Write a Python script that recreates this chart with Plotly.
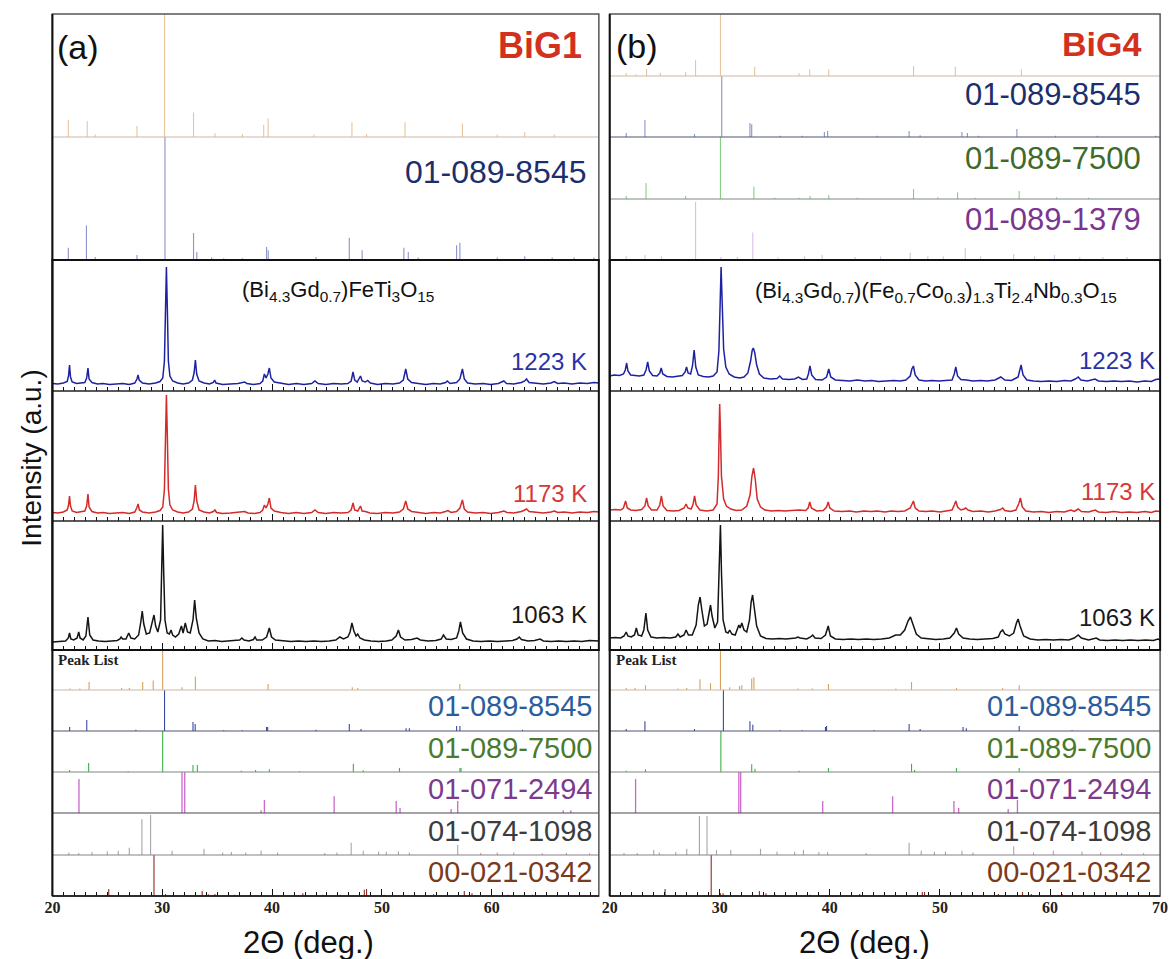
import plotly.graph_objects as go

W, H = 1176, 959

# ---------------- measured diffraction patterns: (2theta, intensity a.u.) ----------------
a1223 = [(20.0,7.5),(20.5,7),(21.0,8),(21.35,9.5),(21.47,15),(21.56,26),(21.65,14),(21.8,9),(22.2,7.5),(22.6,8),(22.95,8.5),(23.12,13),(23.24,23),(23.34,12),(23.6,8.5),(24.1,7),(24.6,7.5),(25.2,6.5),(25.8,7),(26.4,7.5),(27.0,6.5),(27.5,8),(27.7,12),(27.8,16),(27.9,11),(28.2,8),(28.8,7),(29.4,8),(29.8,9.5),(30.05,13),(30.2,30),(30.3,90),(30.38,124),(30.46,85),(30.56,30),(30.7,15),(30.95,10),(31.4,8),(31.9,7),(32.4,8),(32.75,11),(32.9,18),(33.02,31),(33.14,17),(33.35,10),(33.8,8),(34.3,7),(34.65,8.5),(34.77,11),(34.9,8),(35.5,6.5),(36.2,7),(36.9,7.5),(37.5,9),(37.7,7.5),(38.3,6.5),(38.9,7.5),(39.15,10),(39.3,17),(39.45,13),(39.62,17),(39.75,23),(39.9,13),(40.2,9),(40.8,7.5),(41.5,6.5),(42.2,7.5),(42.9,6.5),(43.6,7.5),(43.9,10),(44.2,7.5),(44.9,6.5),(45.6,7.5),(46.3,7),(46.9,7.5),(47.2,10),(47.37,19),(47.52,11),(47.75,9),(48.05,15),(48.2,10),(48.5,9),(48.7,10.5),(48.95,8),(49.6,6.5),(50.3,7.5),(51.0,7),(51.6,8),(51.95,11),(52.17,22),(52.35,12),(52.7,8.5),(53.3,7.5),(54.0,6.5),(54.7,7.5),(55.3,7),(55.8,8.5),(55.95,10),(56.2,7.5),(56.8,8.5),(57.1,12),(57.33,22),(57.5,12),(57.8,8),(58.5,7),(59.2,7.5),(59.9,6.5),(60.6,7.5),(61.1,10),(61.35,7.5),(62.0,7),(62.7,8.5),(63.0,10),(63.16,12),(63.4,8.5),(64.0,7.5),(64.7,7),(65.4,8),(65.7,9.5),(66.0,7.5),(66.6,8),(67.3,7),(68.0,8),(68.7,7.5),(69.3,8.5),(69.8,8)]

a1173 = [(20.0,8.5),(20.5,8),(21.0,9),(21.35,11),(21.47,16),(21.56,25),(21.65,15),(21.8,10),(22.2,8.5),(22.6,9),(22.95,10),(23.12,15),(23.24,27),(23.34,14),(23.6,9.5),(24.1,8),(24.6,8.5),(25.2,7.5),(25.8,8),(26.4,8.5),(27.0,7.5),(27.5,9),(27.68,13),(27.8,17),(27.92,11),(28.2,9),(28.8,8),(29.4,9),(29.8,10.5),(30.05,14),(30.2,32),(30.3,95),(30.38,126),(30.46,88),(30.56,32),(30.7,16),(30.95,11),(31.4,9),(31.9,8),(32.4,9),(32.75,12),(32.9,20),(33.02,36),(33.14,20),(33.35,11),(33.8,9),(34.3,8),(34.65,9.5),(34.8,11),(34.95,8.5),(35.5,7.5),(36.2,8),(36.9,8.5),(37.5,9.5),(37.8,8),(38.4,7.5),(38.9,8.5),(39.15,11),(39.3,16),(39.45,13),(39.62,17),(39.75,23),(39.9,13),(40.2,10),(40.8,8.5),(41.5,7.5),(42.2,8.5),(42.9,7.5),(43.6,8.5),(43.9,11),(44.2,8.5),(44.9,7.5),(45.6,8.5),(46.3,8),(46.9,8.5),(47.2,11),(47.37,18),(47.52,11),(47.8,10),(48.05,15),(48.2,10),(48.5,9.5),(48.9,8),(49.6,7.5),(50.3,8.5),(51.0,8),(51.6,9),(51.95,12),(52.17,20),(52.35,12),(52.7,9.5),(53.3,8.5),(54.0,7.5),(54.7,8.5),(55.3,8),(55.8,9.5),(56.0,10.5),(56.3,8.5),(56.8,9.5),(57.1,13),(57.33,21),(57.5,12),(57.8,9),(58.5,8),(59.2,8.5),(59.9,7.5),(60.6,8.5),(61.1,10),(61.4,8.5),(62.0,8),(62.7,9.5),(63.0,11),(63.16,12),(63.4,9.5),(64.0,8.5),(64.7,8),(65.4,9),(65.7,10),(66.0,8.5),(66.6,9),(67.3,8),(68.0,9),(68.7,8.5),(69.3,9.5),(69.8,9)]

a1063 = [(20.0,8),(20.6,8.5),(21.2,9),(21.45,12),(21.56,17),(21.68,11),(21.95,10),(22.25,12),(22.4,18),(22.52,12),(22.8,10),(23.05,14),(23.24,33),(23.4,15),(23.7,10),(24.2,9),(24.8,8.5),(25.4,9),(25.9,9.5),(26.15,11),(26.26,13),(26.4,11),(26.7,11),(26.95,17),(27.15,12),(27.5,11),(27.85,15),(28.05,28),(28.18,39),(28.32,26),(28.55,16),(28.85,17),(29.1,28),(29.25,35),(29.4,24),(29.6,18),(29.85,30),(29.95,80),(30.04,125),(30.14,75),(30.25,30),(30.45,17),(30.65,16),(30.8,20),(30.95,15),(31.2,13),(31.5,16),(31.75,24),(31.9,17),(32.1,27),(32.3,18),(32.55,17),(32.8,30),(32.95,50),(33.1,32),(33.35,17),(33.7,11),(34.2,9),(34.8,9.5),(35.4,8.5),(36.0,9),(36.6,9.5),(37.05,10),(37.25,12),(37.45,10),(37.9,9),(38.3,10.5),(38.45,13),(38.6,10),(39.1,10),(39.5,13),(39.75,22),(39.95,13),(40.3,10),(41.0,9),(41.7,8.5),(42.4,9),(43.1,8.5),(43.8,9),(44.5,8.5),(45.2,9),(45.8,10),(46.17,13),(46.5,11),(46.9,13),(47.1,18),(47.27,27),(47.45,19),(47.65,14),(47.8,16),(48.0,12),(48.4,10),(49.0,9),(49.7,8.5),(50.4,9),(50.9,10),(51.3,14),(51.5,20),(51.7,13),(52.1,10),(52.7,10.5),(53.2,12),(53.5,10),(54.2,9),(54.9,9.5),(55.4,11),(55.6,15),(55.85,11),(56.3,10.5),(56.8,12),(57.0,19),(57.15,28),(57.35,17),(57.7,11),(58.3,9),(59.0,8.5),(59.8,9),(60.5,8.5),(61.3,9),(61.9,9.5),(62.3,11),(62.5,13),(62.7,10.5),(63.3,9),(63.9,9.5),(64.4,11),(64.7,9),(65.4,8.5),(66.1,9),(66.8,8.5),(67.5,9),(68.2,8.5),(68.9,9.5),(69.8,9)]

b1223 = [(20.0,15),(20.4,16),(20.9,15.5),(21.25,17),(21.42,21),(21.54,28),(21.66,20),(21.9,16),(22.3,15.5),(22.7,15),(23.1,16),(23.3,21),(23.45,29),(23.6,20),(23.9,15.5),(24.3,15),(24.55,18),(24.68,23),(24.82,17),(25.2,14.5),(25.7,14),(26.2,15),(26.6,15.5),(26.85,19),(26.98,24),(27.12,18),(27.35,17),(27.52,25),(27.67,41),(27.82,24),(28.05,16),(28.5,14.5),(29.0,14),(29.4,15),(29.75,19),(29.92,40),(30.02,90),(30.12,124),(30.22,88),(30.35,42),(30.55,24),(30.85,17),(31.3,14),(31.8,13),(32.2,14),(32.55,18),(32.8,30),(32.95,41),(33.05,43),(33.18,38),(33.35,26),(33.6,17),(34.0,13),(34.6,12),(35.2,12.5),(35.44,15),(35.7,12),(36.3,11.5),(36.8,12),(37.15,14),(37.5,11.5),(37.9,12),(38.05,17),(38.19,25),(38.35,16),(38.7,11.5),(39.3,11),(39.7,14),(39.9,22),(40.08,14),(40.5,11),(41.2,10.5),(41.8,10),(42.5,11),(43.2,10),(43.8,10.5),(44.4,9.5),(45.1,10),(45.8,10.5),(46.4,10),(46.9,11),(47.3,15),(47.45,22),(47.59,25),(47.75,16),(48.1,11),(48.7,10),(49.3,10.5),(49.9,10),(50.5,10.5),(51.1,11),(51.3,17),(51.44,24),(51.6,15),(51.9,11.5),(52.4,11),(53.0,10),(53.7,10.5),(54.3,10),(55.0,11),(55.53,14),(55.9,11),(56.5,10.5),(57.1,14),(57.22,20),(57.37,26),(57.55,16),(57.9,11),(58.5,10),(59.2,9.5),(59.9,10),(60.6,9.5),(61.3,10.5),(61.9,10),(62.3,12),(62.56,14),(62.8,11),(63.4,10),(64.08,12),(64.4,10),(65.1,9.5),(65.8,10),(66.5,9.5),(67.2,10),(67.9,9),(68.6,10),(69.2,9.5),(69.6,11.5),(69.9,12),(70.0,11)]

b1173 = [(20.0,11),(20.5,11.5),(21.0,11),(21.25,13),(21.44,20),(21.6,13),(21.9,11),(22.4,10.5),(22.9,11.5),(23.2,15),(23.35,23),(23.5,15),(23.8,11),(24.3,11),(24.55,16),(24.7,25),(24.85,15),(25.2,10.5),(25.8,10),(26.3,10.5),(26.75,13),(26.94,17),(27.1,13),(27.4,12),(27.58,17),(27.71,25),(27.85,16),(28.2,11),(28.8,10),(29.4,11),(29.75,17),(29.87,45),(29.95,95),(29.99,117),(30.05,95),(30.15,45),(30.35,22),(30.6,15),(31.0,12),(31.5,10.5),(32.0,11),(32.45,15),(32.75,26),(32.92,45),(33.07,53),(33.22,42),(33.4,22),(33.7,14),(34.1,11),(34.7,10),(35.3,10.5),(35.9,10),(36.5,10.5),(37.2,11),(37.8,10.5),(38.03,13),(38.17,19),(38.32,13),(38.8,10),(39.4,10.5),(39.7,14),(39.85,19),(40.0,13),(40.4,10),(41.1,9.5),(41.8,10),(42.4,9),(43.1,10),(43.7,9.5),(44.3,10),(45.0,9),(45.6,10),(46.2,9.5),(46.8,10),(47.3,13),(47.45,17),(47.59,20),(47.75,13),(48.1,10),(48.7,9.5),(49.3,10),(50.0,9),(50.6,10),(51.1,11),(51.3,16),(51.44,20),(51.6,14),(51.9,11),(52.2,12),(52.35,13),(52.55,11),(53.0,9.5),(53.7,10),(54.4,9),(55.0,10),(55.5,11.5),(55.7,13),(55.9,10.5),(56.4,9.5),(56.9,11),(57.15,17),(57.31,23),(57.48,14),(57.8,10),(58.5,9),(59.2,9.5),(59.9,8.5),(60.6,9.5),(61.3,9),(61.9,11),(62.2,9.5),(62.56,12),(62.85,9.5),(63.5,9),(64.1,11),(64.4,9),(65.1,8.5),(65.8,9.5),(66.5,8.5),(67.2,9),(67.9,8.5),(68.6,9.5),(69.2,8.5),(69.6,10),(70.0,9.5)]

b1063 = [(20.0,12),(20.5,12.5),(21.0,12),(21.3,14),(21.5,18),(21.65,14),(21.95,13),(22.25,15),(22.42,22),(22.58,15),(22.9,14),(23.1,20),(23.29,37),(23.45,20),(23.75,13),(24.3,12),(24.9,12.5),(25.5,12),(26.0,13),(26.2,16),(26.4,13),(26.75,15),(26.94,20),(27.15,15),(27.5,15),(27.85,25),(28.05,45),(28.21,53),(28.37,40),(28.6,24),(28.85,26),(29.02,38),(29.16,45),(29.3,34),(29.55,22),(29.8,28),(29.95,80),(30.06,125),(30.16,75),(30.3,30),(30.55,18),(30.75,17),(30.9,20),(31.1,16),(31.4,15),(31.6,20),(31.73,25),(31.85,22),(32.0,27),(32.2,20),(32.45,18),(32.7,30),(32.85,48),(32.98,55),(33.12,45),(33.35,24),(33.7,14),(34.2,11.5),(34.8,11),(35.4,11.5),(36.0,11),(36.6,11.5),(36.9,12),(37.1,13),(37.3,12),(37.9,11),(38.25,13),(38.44,15),(38.65,12),(39.2,11.5),(39.6,15),(39.85,24),(40.05,14),(40.5,11),(41.2,10.5),(41.9,11),(42.6,10.5),(43.3,11),(44.0,10.5),(44.7,11),(45.4,12),(45.98,15),(46.4,15),(46.8,20),(47.1,29),(47.32,33),(47.55,25),(47.85,16),(48.3,12),(48.9,11),(49.6,10.5),(50.3,11),(50.9,12),(51.3,17),(51.5,22),(51.7,16),(52.1,12),(52.7,11),(53.4,10.5),(54.1,11),(54.8,11.5),(55.3,13),(55.5,18),(55.7,20),(55.9,16),(56.3,14),(56.7,17),(56.95,27),(57.1,31),(57.28,24),(57.6,14),(58.2,11),(58.9,10),(59.6,10.5),(60.3,10),(61.0,10.5),(61.7,10),(62.2,12),(62.56,15),(62.85,12),(63.5,10),(64.2,12),(64.5,10),(65.2,9.5),(65.9,10),(66.6,9.5),(67.3,10),(68.0,9.5),(68.7,10),(69.4,9.5),(69.8,11),(70.0,10)]

# ---------------- reference stick patterns: (2theta, relative intensity %) ----------------
a_top_peaklist = [(21.45,14),(23.17,13),(23.9,2),(27.7,9),(30.21,100),(32.85,20),(34.8,3),(37.3,2.5),(39.24,10),(39.64,15),(43.8,2),(47.27,12),(48.6,2.5),(52.1,12),(57.33,11),(60.5,2),(63.0,4),(65.7,2)]
a_top_8545 = [(21.45,10),(23.1,28),(23.9,2.5),(27.7,4),(30.25,100),(32.85,22),(33.15,6.5),(34.5,2),(35.6,1.5),(37.3,1.5),(39.5,10.5),(39.65,8),(44.0,2.5),(47.03,18),(48.2,8),(52.0,10),(52.4,6.5),(53.3,2),(56.8,12),(57.1,14),(60.5,2),(63.0,3),(65.5,2),(67.5,2),(69.3,2)]

b_top_peaklist = [(21.5,5),(22.4,3),(23.35,11),(24.6,5),(26.9,6.5),(27.8,26),(30.06,100),(33.17,15),(37.2,5),(38.17,11),(39.9,11),(47.6,16),(51.4,15),(57.4,11)]
b_top_8545 = [(21.5,6.5),(23.2,28),(27.7,5),(30.18,100),(32.74,23),(32.9,21),(35.5,2),(37.5,2),(39.5,8),(39.8,10),(44.3,2),(47.2,10),(48.2,3),(52.0,8),(52.5,6.5),(53.5,2),(56.99,13),(60.5,2),(64.3,2),(69.6,2)]
b_top_7500 = [(21.5,5),(23.3,26),(26.9,5),(30.06,100),(33.1,20),(35.0,2),(37.2,2),(38.2,5),(39.9,6.5),(42.5,2),(47.6,16),(49.8,3),(51.6,11),(53.2,2),(57.2,13),(60.6,3),(63.5,2)]
b_top_1379 = [(21.5,6),(23.2,8),(24.7,6),(27.8,95),(30.1,5),(31.6,5),(33.0,45),(35.3,4),(37.7,6),(39.3,8),(42.3,5),(44.6,6),(47.3,12),(48.9,6),(50.3,6),(52.3,20),(53.7,6),(56.7,10),(58.6,6),(60.4,8),(62.7,5),(64.8,5),(67.0,5)]

a_peaklist = [(21.6,4),(22.5,4),(23.34,20),(26.3,5),(27.0,5),(28.22,20),(29.18,24),(30.04,100),(31.8,7),(33.02,34),(39.64,15),(47.3,7),(47.8,5),(57.09,15)]
a_8545 = [(21.57,10),(23.13,27),(27.6,3),(30.21,100),(32.8,22),(33.0,17),(35.6,2),(37.3,2),(39.5,10),(39.6,10),(44.0,3),(47.03,17),(48.1,5),(52.2,7),(52.5,7),(56.8,12),(57.1,12),(62.8,3)]
a_7500 = [(21.57,5),(23.3,22),(26.9,2),(30.04,100),(32.8,17),(33.2,17),(37.2,3),(38.5,5),(39.75,7),(42.5,2),(47.4,20),(48.3,4),(51.6,10),(57.1,10),(57.2,10)]
a_2494 = [(22.42,83),(31.8,100),(32.05,100),(39.0,7),(39.3,32),(45.65,41),(51.3,29),(51.65,12),(56.3,10),(56.9,29),(66.5,7),(67.2,7)]
a_1098 = [(21.5,6),(22.4,5),(23.6,7),(25.0,9),(26.0,10),(27.0,17),(28.15,85),(28.94,95),(30.9,10),(33.8,15),(35.5,6),(36.3,7),(37.6,6),(39.0,10),(40.5,6),(44.8,5),(45.9,6),(47.2,29),(48.3,10),(49.7,8),(50.4,8),(51.5,9),(52.5,6),(56.9,24),(59.0,5),(60.5,6),(62.0,6),(64.6,4),(66.8,5),(68.9,4)]
a_0342 = [(25.13,17),(29.25,100),(30.3,5),(33.64,12),(34.2,4),(34.8,5),(36.6,3),(38.0,3),(42.8,7),(44.6,3),(46.2,3),(48.4,15),(48.6,17),(50.2,3),(53.0,3),(54.7,4),(57.5,12),(58.2,7),(61.5,3),(63.7,3)]

b_peaklist = [(21.5,5),(22.3,5),(23.25,12),(26.2,4),(27.0,5),(28.2,27),(29.16,17),(30.06,100),(30.9,7),(31.8,10),(32.0,12),(32.9,29),(33.1,32),(37.1,4),(38.4,4),(39.87,15),(46.0,4),(47.42,20),(51.5,5),(55.7,5),(57.2,12)]
b_8545 = [(21.5,5),(23.2,24),(27.7,5),(30.33,100),(32.74,24),(33.0,15),(35.5,2),(37.5,2),(39.6,10),(39.7,12),(44.0,2),(47.2,17),(48.2,5),(52.1,10),(52.4,7),(57.2,12),(62.0,2)]
b_7500 = [(21.5,3),(23.25,7),(30.1,100),(32.9,19),(33.2,8),(37.2,3),(39.87,10),(47.42,20),(47.7,5),(51.5,10),(57.2,10)]
b_2494 = [(22.35,83),(31.73,100),(31.9,100),(39.35,29),(45.7,41),(51.27,29),(51.7,12),(56.2,10),(57.04,32)]
b_1098 = [(21.3,5),(22.5,5),(24.0,12),(24.5,6),(26.0,7),(27.0,15),(28.15,93),(28.84,93),(29.7,12),(31.0,12),(33.7,15),(35.2,8),(36.8,8),(37.6,12),(39.0,7),(39.8,7),(43.3,5),(47.2,29),(48.3,10),(49.5,8),(50.5,8),(52.0,10),(53.0,6),(56.7,20),(58.5,6),(60.3,10),(62.9,8),(64.6,6),(66.5,5),(68.5,5)]
b_0342 = [(25.03,17),(29.22,100),(30.06,7),(30.3,7),(33.6,12),(34.2,7),(35.0,4),(38.2,3),(42.7,5),(48.4,10),(48.6,10),(55.3,5),(57.5,10),(58.3,5),(61.1,5)]

temperatures = ["1223 K", "1173 K", "1063 K"]

# ---------------- styling ----------------
SANS = "Liberation Sans, Arial, sans-serif"
SERIF = "Liberation Serif, Times New Roman, serif"
C_PATTERN = {"1223 K": "#1f22a0", "1173 K": "#d42a2a", "1063 K": "#141414"}
C_TEMP_LABEL = {"1223 K": "#2a32a6", "1173 K": "#d43a3a", "1063 K": "#1a1a1a"}
C_STICK = {"peak": "#d9a05a", "8545": "#3a4aa0", "7500": "#3cb043", "2494": "#cc66cc",
           "1098": "#a6a6a6", "0342": "#8b2e22", "1379": "#dcbfe6",
           "peak_top": "#e8c49c", "8545_top": "#8b93c8", "7500_top": "#84d084"}
C_LABEL = {"8545_top": "#1c2f6c", "8545": "#2b5c9e", "7500": "#4a7a2e", "7500_top": "#3f6a2a",
           "1379": "#7a3590", "2494": "#7b3a8c", "1098": "#3c3c3c", "0342": "#7a3a1c"}
C_BASE = {"peak": "#c9b9a8", "8545": "#4d566e", "7500": "#7c8a7c", "2494": "#4a4a52",
          "1098": "#8a7f8c", "1379": "#b9aab9"}

COLS = {"a": (45, 599, [20, 69.75]), "b": (610, 1168, [20, 70])}
BOX_TOP, MAIN_TOP, MAIN_BOT, AX_BOT = 14, 260, 650, 896
MAIN_ROWS = [(260, 391), (391, 521), (521, 650)]
BOT_ROWS = [(650, 690), (690, 731), (731, 772), (772, 813), (813, 855), (855, 896)]
TOP_ROWS = {"a": [(14, 137), (137, 260)], "b": [(14, 76), (76, 137), (137, 199), (199, 260)]}

fig = go.Figure()
axes_layout = {}
shapes = []
annotations = []
counter = [0]


def px_x(x):
    return x / W


def px_y(y):
    return 1 - y / H


def new_axes(col, top, bot, yrange, ticks=False, labels=False):
    counter[0] += 1
    n = counter[0]
    key = "" if n == 1 else str(n)
    xl, xr, xrange = COLS[col]
    xa = dict(domain=[px_x(xl), px_x(xr)], range=xrange, showgrid=False, zeroline=False,
              showline=False, showticklabels=labels, fixedrange=True, anchor="y" + key)
    if ticks:
        xa.update(ticks="inside", tickmode="linear", tick0=20, dtick=10, ticklen=7, tickwidth=1.3,
                  tickcolor="#111",
                  minor=dict(ticks="inside", tickmode="linear", tick0=20, dtick=1, ticklen=4,
                             tickwidth=1.1, tickcolor="#111", showgrid=False))
        if labels:
            xa.update(tickfont=dict(family=SERIF, size=16, color="#222", weight="bold"))
    else:
        xa.update(ticks="")
    ya = dict(domain=[px_y(bot), px_y(top)], range=yrange, visible=False, fixedrange=True,
              anchor="x" + key)
    axes_layout["xaxis" + key] = xa
    axes_layout["yaxis" + key] = ya
    return "x" + key, "y" + key


def add_sticks(col, top, bot, peaks, color, width=1.1, ticks=False, labels=False):
    xa, ya = new_axes(col, top, bot, [0, 100], ticks=ticks, labels=labels)
    xs, ys = [], []
    for p, h in peaks:
        xs += [p, p, None]
        ys += [0, h, None]
    fig.add_trace(go.Scatter(x=xs, y=ys, mode="lines", line=dict(color=color, width=width),
                             xaxis=xa, yaxis=ya, hoverinfo="skip", showlegend=False))


def add_pattern(col, top, bot, pts, color):
    xa, ya = new_axes(col, top, bot, [0, bot - top], ticks=True)
    fig.add_trace(go.Scatter(x=[p[0] for p in pts], y=[p[1] for p in pts], mode="lines",
                             line=dict(color=color, width=1.5), xaxis=xa, yaxis=ya,
                             hoverinfo="skip", showlegend=False))


def hline(x0, x1, y, color, width):
    shapes.append(dict(type="line", xref="paper", yref="paper", x0=px_x(x0), x1=px_x(x1),
                       y0=px_y(y), y1=px_y(y), line=dict(color=color, width=width)))


def rect(x0, x1, y0, y1, color, width):
    shapes.append(dict(type="rect", xref="paper", yref="paper", x0=px_x(x0), x1=px_x(x1),
                       y0=px_y(y1), y1=px_y(y0), line=dict(color=color, width=width)))


def text(x, y, s, size, color, anchor="right", family=SANS, bold=False, angle=0):
    annotations.append(dict(x=px_x(x), y=px_y(y), xref="paper", yref="paper", text=s,
                            showarrow=False, xanchor=anchor, yanchor="middle", textangle=angle,
                            font=dict(family=family, size=size, color=color,
                                      weight="bold" if bold else "normal")))


# ---------------- top reference strips ----------------
(t1, b1), (t2, b2) = TOP_ROWS["a"]
add_sticks("a", t1, b1, a_top_peaklist, C_STICK["peak_top"])
add_sticks("a", t2, b2, a_top_8545, C_STICK["8545_top"])
hline(45, 599, b1, C_BASE["peak"], 1)

rows_b = TOP_ROWS["b"]
add_sticks("b", *rows_b[0], b_top_peaklist, C_STICK["peak_top"])
add_sticks("b", *rows_b[1], b_top_8545, C_STICK["8545_top"])
add_sticks("b", *rows_b[2], b_top_7500, C_STICK["7500_top"])
add_sticks("b", *rows_b[3], b_top_1379, C_STICK["1379"])
hline(610, 1168, rows_b[0][1], C_BASE["peak"], 1)
hline(610, 1168, rows_b[1][1], C_BASE["8545"], 1)
hline(610, 1168, rows_b[2][1], C_BASE["7500"], 1)

# ---------------- measured patterns ----------------
for col, series in (("a", (a1223, a1173, a1063)), ("b", (b1223, b1173, b1063))):
    for (top, bot), temp, pts in zip(MAIN_ROWS, temperatures, series):
        add_pattern(col, top, bot, pts, C_PATTERN[temp])

# ---------------- bottom peak lists ----------------
bottom_sets = {
    "a": [(a_peaklist, "peak"), (a_8545, "8545"), (a_7500, "7500"), (a_2494, "2494"),
          (a_1098, "1098"), (a_0342, "0342")],
    "b": [(b_peaklist, "peak"), (b_8545, "8545"), (b_7500, "7500"), (b_2494, "2494"),
          (b_1098, "1098"), (b_0342, "0342")],
}
for col, sets in bottom_sets.items():
    xl, xr, _ = COLS[col]
    for i, ((top, bot), (peaks, key)) in enumerate(zip(BOT_ROWS, sets)):
        last = i == len(BOT_ROWS) - 1
        add_sticks(col, top, bot, peaks, C_STICK[key], width=1.3 if key == "2494" else 1.1,
                   ticks=last, labels=last)
        if not last:
            hline(xl, xr, bot, C_BASE[key], 1.2)

# ---------------- frames ----------------
for col in ("a", "b"):
    xl, xr, _ = COLS[col]
    rect(xl, xr, BOX_TOP, MAIN_TOP, "#555", 1.5)
    rect(xl, xr, MAIN_BOT, AX_BOT, "#555", 1.5)
    hline(xl, xr, MAIN_ROWS[0][1], "#222", 1.5)
    hline(xl, xr, MAIN_ROWS[1][1], "#222", 1.5)
    rect(xl, xr, MAIN_TOP, MAIN_BOT, "#111", 2)
    hline(xl, xr, AX_BOT, "#111", 1.6)
    shapes.append(dict(type="line", xref="paper", yref="paper", x0=px_x(xl), x1=px_x(xl),
                       y0=px_y(AX_BOT), y1=px_y(BOX_TOP), line=dict(color="#111", width=2)))

# ---------------- text ----------------
text(48, 47, "(a)", 34, "#111", anchor="left")
text(584, 46, "BiG1", 36, "#d2311e", bold=True)
text(588, 172, "01-089-8545", 32, C_LABEL["8545_top"])

text(614, 46, "(b)", 34, "#111", anchor="left")
text(1151, 44, "BiG4", 34, "#d2311e", bold=True)
text(1151, 95, "01-089-8545", 31, C_LABEL["8545_top"])
text(1151, 158, "01-089-7500", 31, C_LABEL["7500_top"])
text(1151, 220, "01-089-1379", 31, C_LABEL["1379"])

text(335, 291, "(Bi<sub>4.3</sub>Gd<sub>0.7</sub>)FeTi<sub>3</sub>O<sub>15</sub>", 22, "#111",
     anchor="center")
text(941, 292, "(Bi<sub>4.3</sub>Gd<sub>0.7</sub>)(Fe<sub>0.7</sub>Co<sub>0.3</sub>)<sub>1.3</sub>"
     "Ti<sub>2.4</sub>Nb<sub>0.3</sub>O<sub>15</sub>", 22, "#111", anchor="center")

temp_y = {"a": [361, 493, 614], "b": [360, 491, 617]}
temp_x = {"a": 589, "b": 1165}
for col in ("a", "b"):
    for temp, y in zip(temperatures, temp_y[col]):
        text(temp_x[col], y, temp, 24, C_TEMP_LABEL[temp])

bottom_labels = [("01-089-8545", "8545", 706), ("01-089-7500", "7500", 748),
                 ("01-071-2494", "2494", 789), ("01-074-1098", "1098", 831),
                 ("00-021-0342", "0342", 872)]
for col, xr in (("a", 594), ("b", 1161)):
    for s, key, y in bottom_labels:
        text(xr, y, s, 29, C_LABEL[key])
    text(COLS[col][0] + 4, 660, "Peak List", 15, "#222", anchor="left", family=SERIF, bold=True)

text(23, 458, "Intensity (a.u.)", 28, "#111", anchor="center", angle=-90)
text(305, 942, "2\u0398 (deg.)", 31, "#111", anchor="center")
text(868, 942, "2\u0398 (deg.)", 31, "#111", anchor="center")

fig.update_layout(width=W, height=H, margin=dict(l=0, r=0, t=0, b=0),
                  paper_bgcolor="white", plot_bgcolor="rgba(0,0,0,0)",
                  showlegend=False, shapes=shapes, annotations=annotations, **axes_layout)

fig.write_html("out.html")
